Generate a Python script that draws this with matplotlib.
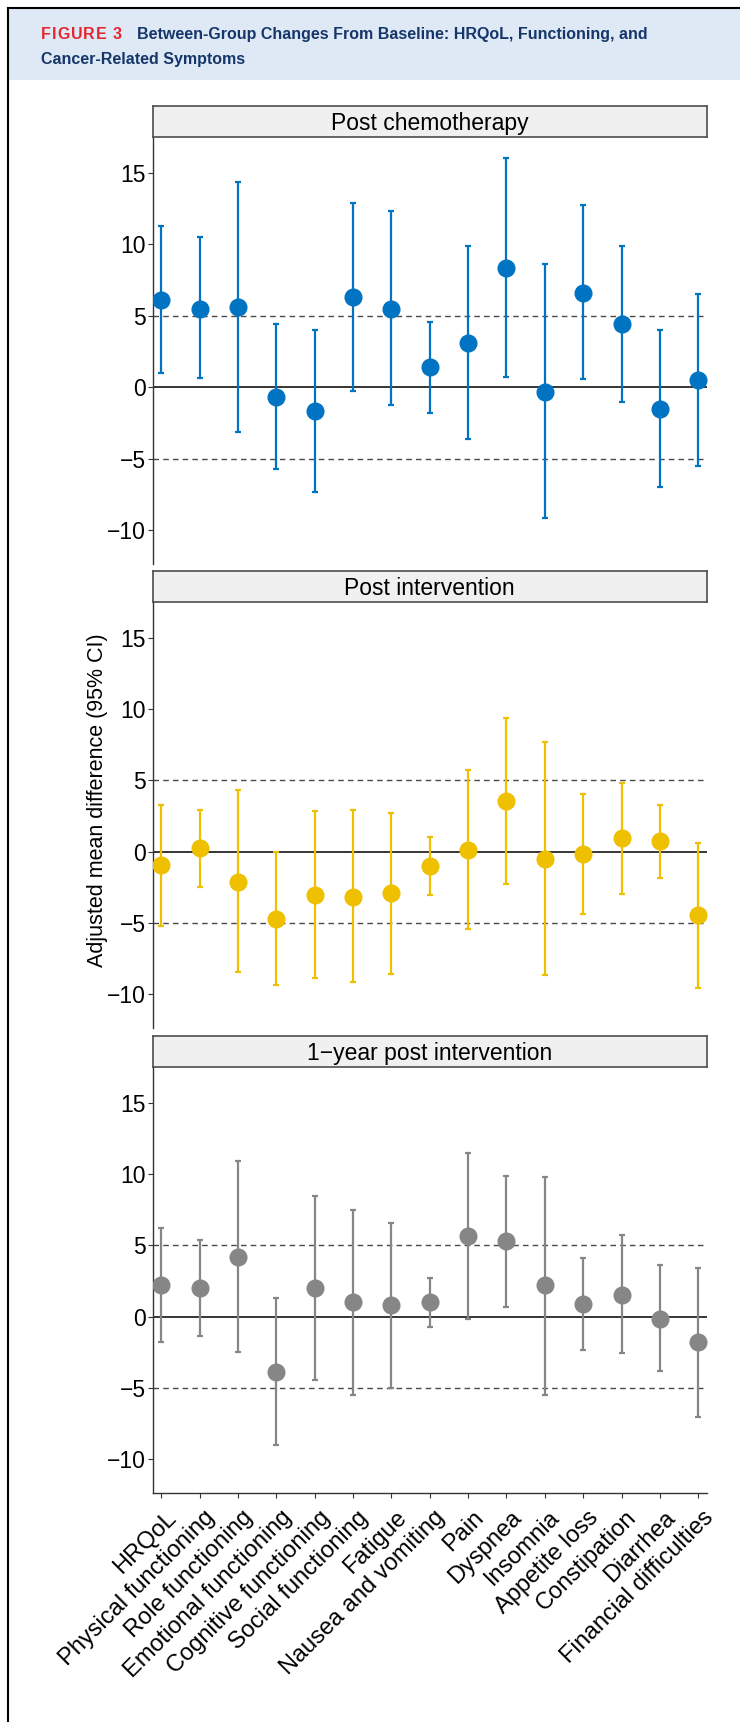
import matplotlib
matplotlib.use("Agg")
import matplotlib.pyplot as plt
from matplotlib.transforms import ScaledTranslation
from matplotlib.patches import Rectangle
from matplotlib.lines import Line2D
import numpy as np

# ---------------- data ----------------
categories = ["HRQoL", "Physical functioning", "Role functioning", "Emotional functioning",
              "Cognitive functioning", "Social functioning", "Fatigue", "Nausea and vomiting",
              "Pain", "Dyspnea", "Insomnia", "Appetite loss", "Constipation", "Diarrhea",
              "Financial difficulties"]

panel_titles = ["Post chemotherapy", "Post intervention", "1\u2212year post intervention"]

chemo_est = [6.1, 5.5, 5.6, -0.65, -1.65, 6.3, 5.5, 1.4, 3.1, 8.35, -0.3, 6.6, 4.4, -1.5, 0.5]
chemo_lo = [1.0, 0.65, -3.1, -5.7, -7.3, -0.25, -1.2, -1.8, -3.6, 0.7, -9.1, 0.55, -1.0, -7.0, -5.5]
chemo_hi = [11.25, 10.5, 14.35, 4.4, 4.0, 12.9, 12.3, 4.6, 9.85, 16.05, 8.6, 12.75, 9.9, 4.0, 6.5]

post_est = [-0.95, 0.25, -2.1, -4.7, -3.0, -3.15, -2.9, -1.0, 0.15, 3.55, -0.5, -0.15, 0.95, 0.75, -4.45]
post_lo = [-5.2, -2.5, -8.45, -9.35, -8.85, -9.15, -8.55, -3.0, -5.4, -2.25, -8.65, -4.35, -2.95, -1.85, -9.55]
post_hi = [3.3, 2.9, 4.3, 0.0, 2.85, 2.9, 2.75, 1.0, 5.7, 9.35, 7.7, 4.05, 4.8, 3.3, 0.6]

year_est = [2.25, 2.0, 4.2, -3.85, 2.0, 1.05, 0.8, 1.05, 5.65, 5.3, 2.2, 0.9, 1.55, -0.15, -1.8]
year_lo = [-1.75, -1.35, -2.45, -9.0, -4.4, -5.5, -5.0, -0.7, -0.15, 0.7, -5.45, -2.3, -2.55, -3.8, -7.05]
year_hi = [6.25, 5.4, 10.9, 1.3, 8.45, 7.5, 6.55, 2.75, 11.45, 9.85, 9.8, 4.1, 5.7, 3.6, 3.45]

y_ticks = [-10, -5, 0, 5, 10, 15]
ref_solid = 0
ref_dashed = [-5, 5]
colors = ["#0073C2", "#EFC000", "#868686"]

y_label = "Adjusted mean difference (95% CI)"
fig_label = "FIGURE 3"
title_line1 = "Between-Group Changes From Baseline: HRQoL, Functioning, and"
title_line2 = "Cancer-Related Symptoms"

series = [(chemo_est, chemo_lo, chemo_hi),
          (post_est, post_lo, post_hi),
          (year_est, year_lo, year_hi)]

# ---------------- layout ----------------
W, H = 740, 1722
fig = plt.figure(figsize=(W / 100, H / 100), dpi=100)
plt.rcParams["font.family"] = ["Liberation Sans", "DejaVu Sans"]

def fx(px):
    return px / W

def fy(py):
    return 1 - py / H

# header band and border
fig.patches.append(Rectangle((fx(9), fy(80)), (W - 9) / W, 71 / H, transform=fig.transFigure,
                             facecolor="#DEE9F5", edgecolor="none", zorder=0))
fig.lines.append(Line2D([fx(8), fx(8)], [0, fy(8)], transform=fig.transFigure, color="black", lw=1.5))
fig.lines.append(Line2D([fx(8), 1], [fy(8), fy(8)], transform=fig.transFigure, color="black", lw=1.5))

renderer = fig.canvas.get_renderer()
title_font = ["Liberation Sans", "DejaVu Sans"]
navy = "#16366A"
red = "#E5262E"

# fit title font size so line 1 ends at x=648
t1 = fig.text(fx(137), fy(39), title_line1, color=navy, fontsize=11, fontweight="bold",
              va="baseline", ha="left", family=title_font)
w = t1.get_window_extent(renderer).width
fs = 11 * (648 - 137) / w
t1.set_fontsize(fs)
fig.text(fx(41), fy(64), title_line2, color=navy, fontsize=fs, fontweight="bold",
         va="baseline", ha="left", family=title_font)

# letter-spaced "FIGURE 3"
char_w = []
for ch in fig_label:
    tt = fig.text(0, 0, ch, fontsize=fs, fontweight="bold", family=title_font)
    char_w.append(tt.get_window_extent(renderer).width if ch != " " else fs * 0.28 * 100 / 72)
    tt.remove()
total = sum(char_w)
track = (122 - 41 - total) / (len(fig_label) - 1)
xc = 41
for ch, cw in zip(fig_label, char_w):
    if ch != " ":
        fig.text(fx(xc), fy(39), ch, color=red, fontsize=fs, fontweight="bold",
                 va="baseline", ha="left", family=title_font)
    xc += cw + track

left, right = 152.6, 707
panels = [(137, 564), (602, 1028), (1067, 1493)]
strip_h = 31
x = np.arange(1, len(categories) + 1)

for i, ((top, bot), (est, lo, hi), col, ttl) in enumerate(zip(panels, series, colors, panel_titles)):
    ax = fig.add_axes([fx(left), fy(bot), (right - left) / W, (bot - top) / H])
    est = np.array(est)
    lo = np.array(lo)
    hi = np.array(hi)
    ax.axhline(ref_solid, color="black", lw=1.1, zorder=1)
    for r in ref_dashed:
        ax.axhline(r, color="#4A4A4A", lw=1.0, ls=(0, (4, 3)), zorder=1)
    ax.errorbar(x, est, yerr=[est - lo, hi - est], fmt="o", color=col, ms=12,
                elinewidth=1.6, capsize=2.5, capthick=1.6, zorder=3)
    ax.set_xlim(0.77, 15.23)
    ax.set_ylim(-12.35, 17.5)
    ax.set_yticks(y_ticks)
    ax.tick_params(axis="y", labelsize=16.5, length=3.3, width=0.8, color="#333333", pad=1.5)
    for s in ["top", "right"]:
        ax.spines[s].set_visible(False)
    ax.spines["left"].set_color("#333333")
    ax.spines["left"].set_linewidth(1.0)
    ax.set_xticks(x)
    if i < 2:
        ax.spines["bottom"].set_visible(False)
        ax.tick_params(axis="x", bottom=False, labelbottom=False)
    else:
        ax.spines["bottom"].set_color("#333333")
        ax.spines["bottom"].set_linewidth(1.0)
        ax.set_xticklabels(categories, rotation=45, ha="right", va="top",
                           rotation_mode="anchor", fontsize=17)
        ax.tick_params(axis="x", length=3.3, width=0.8, color="#333333", pad=6.5)
        off = ScaledTranslation(4 / 100, 0, fig.dpi_scale_trans)
        for lab in ax.get_xticklabels():
            lab.set_transform(lab.get_transform() + off)

    sax = fig.add_axes([fx(left), fy(top), (right - left) / W, strip_h / H])
    sax.set_facecolor("#F0F0F0")
    sax.set_xticks([])
    sax.set_yticks([])
    for s in sax.spines.values():
        s.set_color("#4D4D4D")
        s.set_linewidth(1.2)
    sax.text(0.5, 0.45, ttl, ha="center", va="center", fontsize=16.5, transform=sax.transAxes)

fig.text(fx(98), fy(800), y_label, rotation=90, ha="center", va="center", fontsize=15.5)

fig.savefig("out.png", dpi=100)
